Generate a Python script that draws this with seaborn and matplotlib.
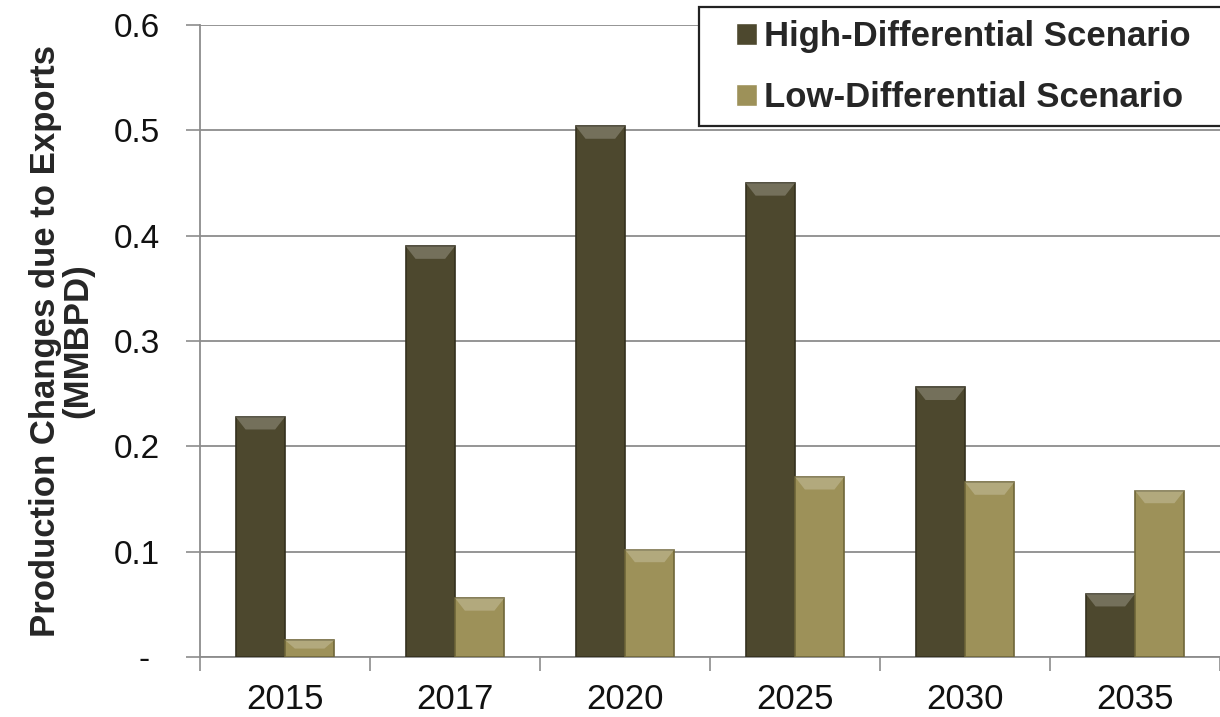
import matplotlib
matplotlib.use("Agg")
import matplotlib.pyplot as plt
from matplotlib.patches import Rectangle
import seaborn as sns
import pandas as pd

# ---------------------------
# Data
# ---------------------------
years = ["2015", "2017", "2020", "2025", "2030", "2035"]
high_diff = [0.228, 0.390, 0.504, 0.450, 0.256, 0.060]
low_diff = [0.016, 0.056, 0.102, 0.171, 0.166, 0.158]
series = ["High-Differential Scenario", "Low-Differential Scenario"]
y_ticks = [0.0, 0.1, 0.2, 0.3, 0.4, 0.5, 0.6]
y_tick_labels = ["- ", "0.1", "0.2", "0.3", "0.4", "0.5", "0.6"]

df = pd.DataFrame({
    "Year": years * 2,
    "Value": high_diff + low_diff,
    "Scenario": [series[0]] * len(years) + [series[1]] * len(years),
})

colors = ["#4d482e", "#9d9159"]
edges = ["#34301e", "#6f6639"]
grid_grey = "#8c8c8c"

# ---------------------------
# Plot
# ---------------------------
sns.set_style("white")
plt.rcParams["font.family"] = ["Liberation Sans", "DejaVu Sans"]

fig = plt.figure(figsize=(12.2, 7.17), dpi=100)
ax = fig.add_axes([200 / 1220, 1 - 657 / 717, 1020 / 1220, 632 / 717])

sns.barplot(data=df, x="Year", y="Value", hue="Scenario", palette=colors,
            width=0.58, saturation=1, ax=ax, zorder=3)

# darker rims and a light bevel band on top of each bar
for container, ec in zip(ax.containers, edges):
    for bar in container:
        bar.set_edgecolor(ec)
        bar.set_linewidth(1.2)
        x0, w, h = bar.get_x(), bar.get_width(), bar.get_height()
        band = min(0.012, h * 0.5)
        ax.fill([x0, x0 + w, x0 + w * 0.8, x0 + w * 0.2],
                [h, h, h - band, h - band],
                color="white", alpha=0.22, lw=0, zorder=4)

ax.set_xlim(-0.5, 5.5)
ax.set_ylim(0, 0.6)
ax.set_yticks(y_ticks)
ax.set_yticklabels(y_tick_labels)
ax.yaxis.grid(True, color=grid_grey, linewidth=1.3, zorder=0)
ax.set_axisbelow(True)

# category boundary ticks on the x axis
ax.set_xticks([i - 0.5 for i in range(len(years) + 1)], minor=True)
ax.tick_params(axis="x", which="major", length=0, pad=19, labelsize=25,
               labelcolor="#111111")
ax.tick_params(axis="x", which="minor", length=10, width=1.2, color=grid_grey,
               direction="out", bottom=True)
ax.tick_params(axis="y", length=10, width=1.2, color=grid_grey, left=True,
               direction="out", labelsize=24, pad=19, labelcolor="#111111")

for side in ["top", "right"]:
    ax.spines[side].set_visible(False)
for side in ["left", "bottom"]:
    ax.spines[side].set_color(grid_grey)
    ax.spines[side].set_linewidth(1.3)

ax.set_xlabel("")
ax.set_ylabel("Production Changes due to Exports\n(MMBPD)", fontsize=25,
              fontweight="bold", labelpad=14, linespacing=0.95)

# legend box drawn separately, legend entries on top of it
ax.add_artist(Rectangle((699 / 1220, 1 - 126 / 717), 530 / 1220, 119 / 717,
                        transform=fig.transFigure, clip_on=False,
                        facecolor="white", edgecolor="#222222",
                        linewidth=1.6, zorder=9))
leg = ax.legend(loc="upper left", bbox_to_anchor=(736 / 1220, 1 - 20 / 717),
                bbox_transform=fig.transFigure, frameon=False,
                prop={"weight": "bold", "size": 25},
                handlelength=0.6, handleheight=0.6, handletextpad=0.2,
                borderpad=0, labelspacing=0.82, borderaxespad=0)
leg.set_zorder(10)

plt.savefig("out.png", dpi=100)
